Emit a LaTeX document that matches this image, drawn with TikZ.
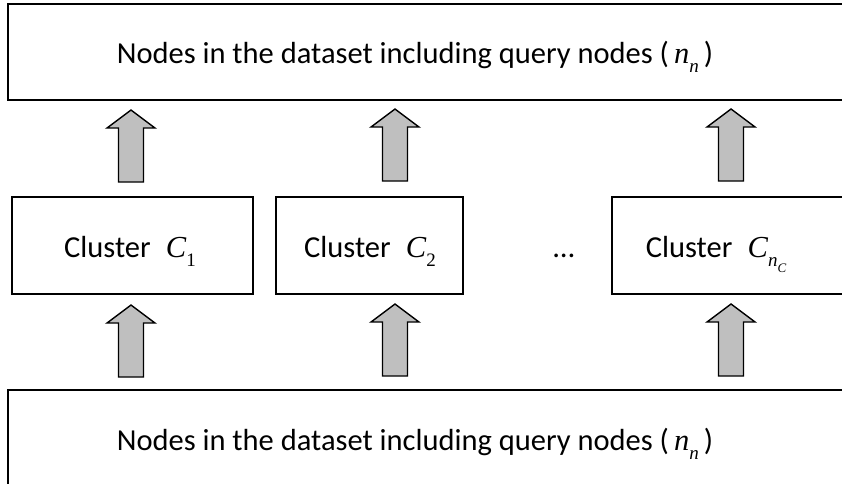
\documentclass[tikz,border=0pt]{standalone}
\usepackage{fontspec}
\setmainfont{Carlito}
\newfontfamily\tms{Liberation Serif}
% italic serif symbol and a lowered subscript
\newcommand\symb[1]{{\tms\itshape #1}}
\newcommand\lowsub[2][0.32em]{\raisebox{-#1}{\fontsize{19}{19}\selectfont #2}}
\tikzset{
  frame/.style={draw, line width=1.6pt, inner sep=0pt},
  caption/.style={font=\fontsize{30.5}{36}\selectfont, inner sep=0pt},
  uparr/.pic={
    \draw[line width=1.4pt, fill=black!25, line join=miter]
      (-12.5,0) -- (-12.5,-54) -- (-24,-54) -- (0,-72) -- (24,-54)
      -- (12.5,-54) -- (12.5,0) -- cycle;
  }
}
\begin{document}
\begin{tikzpicture}[x=1pt,y=-1pt]
\useasboundingbox (0,0) rectangle (842,483);
\clip (0,0) rectangle (842,483);
\fill[white] (0,0) rectangle (842,483);

% top and bottom layers
\node[frame, anchor=north west, minimum width=860pt, minimum height=96pt] (top) at (7,3) {};
\node[frame, anchor=north west, minimum width=860pt, minimum height=130pt] (bottom) at (7,389) {};
\node[caption, anchor=base] (toptxt) at (415,63)
  {Nodes in the dataset including query nodes (\,\symb{n}\lowsub{\symb{n}}\,)};
\node[caption, anchor=base] (bottxt) at (415,450)
  {Nodes in the dataset including query nodes (\,\symb{n}\lowsub{\symb{n}}\,)};

% cluster layer
\node[frame, anchor=north west, minimum width=241pt, minimum height=97pt] (c1) at (11,196) {};
\node[frame, anchor=north west, minimum width=187pt, minimum height=97pt] (c2) at (275,196) {};
\node[frame, anchor=north west, minimum width=250pt, minimum height=97pt] (c3) at (611,196) {};
\node[caption, anchor=base] (c1txt) at (130,257) {Cluster\enspace\symb{C}\lowsub{{\tms 1}}};
\node[caption, anchor=base] (c2txt) at (370,257) {Cluster\enspace\symb{C}\lowsub{{\tms 2}}};
\node[caption, anchor=base] (c3txt) at (716,257)
  {Cluster\enspace\symb{C}\lowsub{\symb{n}\raisebox{-0.3em}{\fontsize{13}{13}\selectfont\symb{C}}}};
\node[caption, anchor=base] (dots) at (564,257) {…};

% block arrows between the layers
\coordinate (u1) at (131,182);
\coordinate (u2) at (395,181);
\coordinate (u3) at (731,181);
\coordinate (l1) at (131,377);
\coordinate (l2) at (395,376);
\coordinate (l3) at (731,376);
\foreach \p in {u1,u2,u3,l1,l2,l3} \pic at (\p) {uparr};
\end{tikzpicture}
\end{document}
